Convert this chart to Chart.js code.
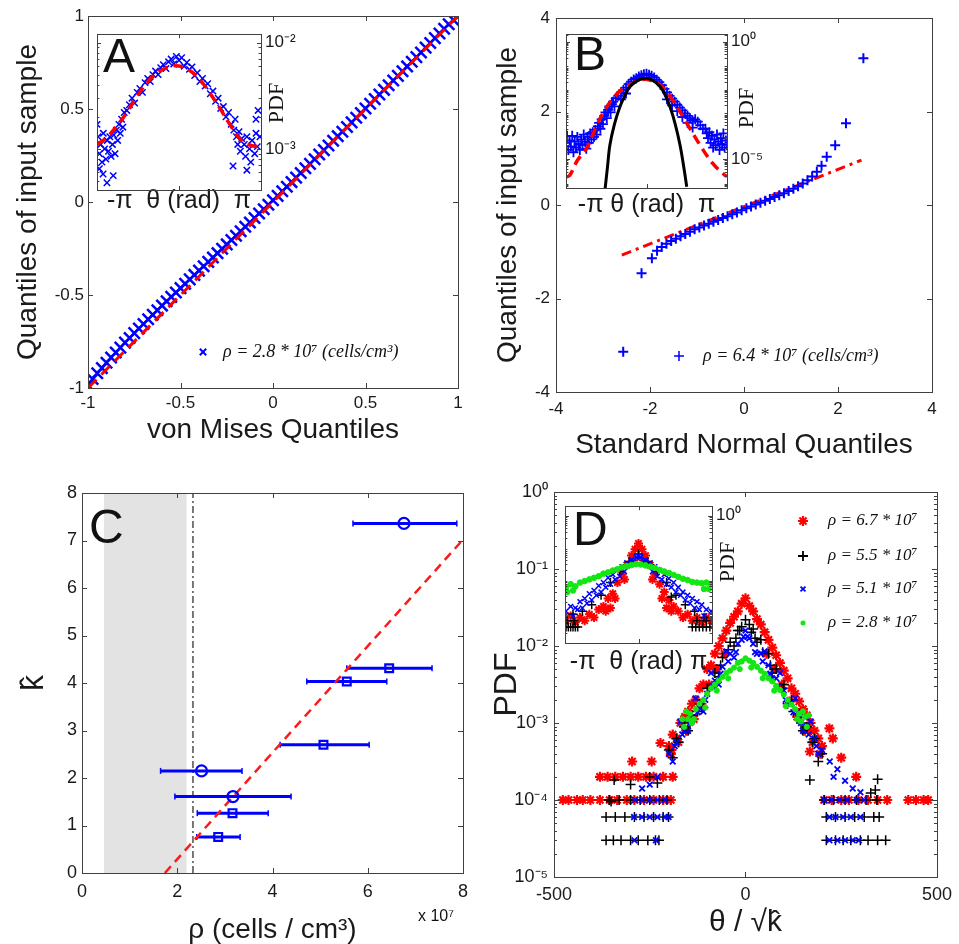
<!DOCTYPE html>
<html lang="en">
<head>
<meta charset="UTF-8">
<title>Orientation statistics</title>
<script src="https://cdn.jsdelivr.net/npm/chart.js"></script>
<style>
  body { margin: 0; background: #fff; }
  #fig { position: relative; width: 959px; height: 944px; overflow: hidden; background: #fff; }
  #fig canvas { position: absolute; }
</style>
</head>
<body>
<div id="fig">
  <canvas id="cA" width="480" height="450" style="left:0px;top:0px"></canvas>
  <canvas id="cB" width="479" height="470" style="left:480px;top:0px"></canvas>
  <canvas id="cC" width="480" height="494" style="left:0px;top:450px"></canvas>
  <canvas id="cD" width="479" height="474" style="left:480px;top:470px"></canvas>
  <canvas id="iA" width="215" height="200" style="left:90px;top:20px"></canvas>
  <canvas id="iB" width="215" height="200" style="left:558px;top:20px"></canvas>
  <canvas id="iD" width="205" height="190" style="left:557px;top:492px"></canvas>
</div>

<script>
// ---- panel A : QQ plot against von Mises ----
const vmQx = [-1, -0.975, -0.95, -0.925, -0.9, -0.875, -0.85, -0.825, -0.8, -0.775,
  -0.75, -0.725, -0.7, -0.675, -0.65, -0.625, -0.6, -0.575, -0.55, -0.525,
  -0.5, -0.475, -0.45, -0.425, -0.4, -0.375, -0.35, -0.325, -0.3, -0.275,
  -0.25, -0.225, -0.2, -0.175, -0.15, -0.125, -0.1, -0.075, -0.05, -0.025,
  0, 0.025, 0.05, 0.075, 0.1, 0.125, 0.15, 0.175, 0.2, 0.225,
  0.25, 0.275, 0.3, 0.325, 0.35, 0.375, 0.4, 0.425, 0.45, 0.475,
  0.5, 0.525, 0.55, 0.575, 0.6, 0.625, 0.65, 0.675, 0.7, 0.725,
  0.75, 0.775, 0.8, 0.825, 0.85, 0.875, 0.9, 0.925, 0.95, 0.975, 1];
const vmQy = [-0.985, -0.952, -0.921, -0.893, -0.864, -0.836, -0.809, -0.783, -0.756, -0.731,
  -0.705, -0.680, -0.656, -0.630, -0.606, -0.582, -0.557, -0.534, -0.510, -0.487,
  -0.463, -0.440, -0.416, -0.392, -0.369, -0.345, -0.322, -0.298, -0.275, -0.251,
  -0.228, -0.204, -0.181, -0.157, -0.133, -0.110, -0.086, -0.062, -0.039, -0.015,
  0.009, 0.033, 0.058, 0.082, 0.107, 0.131, 0.156, 0.181, 0.205, 0.230,
  0.255, 0.279, 0.304, 0.329, 0.354, 0.378, 0.403, 0.428, 0.453, 0.478,
  0.503, 0.528, 0.553, 0.578, 0.603, 0.628, 0.653, 0.678, 0.703, 0.729,
  0.754, 0.779, 0.804, 0.830, 0.855, 0.881, 0.906, 0.931, 0.956, 0.979, 0.998];
const vmFitX = [-1, 1];
const vmFitY = [-1, 1];

// inset A : angular PDF (log axis)
const insAth = [-3.14, -3.1, -3.05, -3.0, -2.95, -2.9, -2.85, -2.8, -2.75, -2.7,
  -2.65, -2.6, -2.55, -2.5, -2.45, -2.4, -2.35, -2.3, -2.25, -2.2, -2.15, -2.1,
  -3.05, -2.91, -2.76, -2.52,
  -2.0, -1.9, -1.8, -1.7, -1.6, -1.5, -1.4, -1.3, -1.2, -1.1,
  -1.0, -0.9, -0.8, -0.7, -0.6, -0.5, -0.4, -0.3, -0.2, -0.1, 0,
  0.1, 0.2, 0.3, 0.4, 0.5, 0.6, 0.7, 0.8, 0.9, 1.0,
  1.1, 1.2, 1.3, 1.4, 1.5, 1.6, 1.7, 1.8, 1.9, 2.0,
  2.1, 2.15, 2.2, 2.25, 2.3, 2.35, 2.4, 2.5, 2.55, 2.6, 2.7, 2.75, 2.8, 2.9, 2.95, 3.0, 3.1,
  2.07, 2.6, 3.03, 2.95];
const insApdf = [1.7e-3, 1.3e-3, 9e-4, 1.1e-3, 7.5e-4, 1.4e-3, 1.0e-3, 8e-4, 1.2e-3, 9.5e-4,
  1.3e-3, 8.5e-4, 1.1e-3, 1.35e-3, 9e-4, 1.5e-3, 1.2e-3, 1.7e-3, 1.4e-3, 1.9e-3, 1.6e-3, 2.2e-3,
  6.5e-4, 5.8e-4, 4.8e-4, 5.6e-4,
  2.3e-3, 2.6e-3, 3.0e-3, 2.7e-3, 3.4e-3, 3.7e-3, 3.4e-3, 4.2e-3, 4.6e-3, 4.3e-3,
  5.0e-3, 5.4e-3, 5.0e-3, 5.8e-3, 6.2e-3, 5.7e-3, 6.6e-3, 7.0e-3, 6.3e-3, 7.4e-3, 6.8e-3,
  7.2e-3, 6.0e-3, 6.5e-3, 5.6e-3, 5.9e-3, 4.9e-3, 5.2e-3, 4.3e-3, 4.6e-3, 3.9e-3,
  4.1e-3, 3.3e-3, 3.5e-3, 2.8e-3, 3.0e-3, 2.4e-3, 2.5e-3, 2.0e-3, 2.2e-3, 1.7e-3,
  1.5e-3, 1.9e-3, 1.3e-3, 1.1e-3, 1.45e-3, 9.5e-4, 1.25e-3, 1.1e-3, 8.5e-4, 1.3e-3, 1.0e-3, 7.5e-4, 1.2e-3, 9e-4, 1.4e-3, 1.05e-3, 1.3e-3,
  6.9e-4, 6.3e-4, 2.3e-3, 1.9e-3];
const insAfitTh = [-3.14, -2.8, -2.4, -2.0, -1.6, -1.2, -0.8, -0.4, 0, 0.4, 0.8, 1.2, 1.6, 2.0, 2.4, 2.8, 3.14];
const insAfit = [1.10e-3, 1.26e-3, 1.62e-3, 2.19e-3, 3.16e-3, 4.27e-3, 5.25e-3, 5.89e-3, 6.03e-3, 5.50e-3, 4.47e-3, 3.31e-3, 2.34e-3, 1.62e-3, 1.20e-3, 1.07e-3, 1.05e-3];

// ---- panel B : QQ plot against standard normal ----
const qqBx = [-2.57, -2.18, -1.96, -1.85, -1.75, -1.65, -1.55, -1.45, -1.35, -1.25, -1.15, -1.05,
  -0.95, -0.85, -0.75, -0.65, -0.55, -0.45, -0.35, -0.25, -0.15, -0.05,
  0.05, 0.15, 0.25, 0.35, 0.45, 0.55, 0.65, 0.75, 0.85, 0.95,
  1.05, 1.15, 1.25, 1.35, 1.45, 1.55, 1.65, 1.76, 1.94, 2.17, 2.54];
const qqBy = [-3.14, -1.46, -1.14, -0.98, -0.90, -0.83, -0.77, -0.72, -0.67, -0.62, -0.57, -0.52,
  -0.48, -0.44, -0.40, -0.36, -0.32, -0.28, -0.24, -0.20, -0.16, -0.11,
  -0.07, -0.03, 0.01, 0.05, 0.09, 0.13, 0.17, 0.21, 0.25, 0.30,
  0.35, 0.40, 0.46, 0.53, 0.61, 0.71, 0.84, 1.03, 1.28, 1.75, 3.14];
const fitBx = [-2.60, 2.50];
const fitBy = [-1.07, 0.96];

// inset B (values are log10 of the PDF)
const insBth = [-3.14, -3.1, -3.05, -3.0, -2.95, -2.9, -2.85, -2.8, -2.75, -2.7, -2.65, -2.6,
  -2.55, -2.5, -2.45, -2.4, -2.35, -2.3, -2.25, -2.2, -2.15, -2.1, -2.05, -2.0,
  -1.95, -1.9, -1.85, -1.8, -1.75, -1.7, -1.65, -1.6, -1.55, -1.5, -1.45, -1.4, -1.35, -1.3, -1.25, -1.2,
  -1.1, -1.0, -0.9, -0.8, -0.7, -0.6, -0.5, -0.4, -0.3, -0.2, -0.1, 0,
  0.1, 0.2, 0.3, 0.4, 0.5, 0.6, 0.7, 0.8, 0.9, 1.0, 1.1, 1.2, 1.3, 1.4, 1.5, 1.6, 1.7, 1.8, 1.9, 2.0, 2.1, 2.2, 2.3, 2.35,
  2.4, 2.45, 2.5, 2.55, 2.6, 2.65, 2.7, 2.75, 2.8, 2.85, 2.9, 2.95, 3.0, 3.05, 3.1, 3.14,
  -1.0, -0.8, 0.8, 1.0, 1.2, 1.4, 1.6, 1.8];
const insBlog = [-4.3, -4.0, -4.6, -4.2, -4.45, -4.0, -4.7, -4.25, -4.5, -4.05, -4.35, -4.6,
  -4.15, -4.4, -3.95, -4.25, -4.55, -4.05, -4.3, -3.9, -4.15, -3.85, -4.05, -3.75,
  -3.95, -3.6, -3.45, -3.7, -3.3, -3.5, -3.15, -3.0, -3.25, -2.9, -2.75, -3.0, -2.65, -2.55, -2.75, -2.4,
  -2.3, -2.15, -2.05, -1.95, -1.8, -1.7, -1.6, -1.55, -1.48, -1.42, -1.38, -1.36,
  -1.4, -1.45, -1.52, -1.62, -1.72, -1.85, -2.0, -2.15, -2.3, -2.42, -2.55, -2.68, -2.8, -2.92, -3.05, -3.15, -3.25, -3.35, -3.3, -3.4, -3.55, -3.7, -3.7, -3.9,
  -4.1, -3.85, -4.3, -4.0, -4.5, -4.15, -4.4, -3.95, -4.25, -4.6, -4.1, -4.35, -3.9, -4.5, -4.2, -4.4,
  -2.45, -2.2, -2.45, -2.7, -2.95, -3.2, -3.45, -3.65];
const insBfitTh = [-3.14, -3.0, -2.7, -2.34, -1.95, -1.56, -1.04, -0.6, -0.25, 0, 0.53, 1.04, 1.57, 2.09, 2.6, 3.07, 3.14];
const insBfitLog = [-5.75, -5.69, -5.05, -4.54, -3.59, -2.78, -2.10, -1.80, -1.63, -1.60, -1.83, -2.51, -3.46, -4.40, -5.20, -5.69, -5.72];
const insBgaussTh = [-1.62, -1.52, -1.43, -1.25, -1.04, -0.85, -0.64, -0.3, 0, 0.25, 0.53, 0.72, 0.92, 1.12, 1.31, 1.45, 1.57];
const insBgaussLog = [-6.3, -5.3, -4.40, -3.50, -2.78, -2.30, -1.90, -1.62, -1.55, -1.65, -1.90, -2.25, -2.78, -3.50, -4.40, -5.30, -6.17];

// ---- panel C : kappa vs density (rho in units of 1e7 cells/cm3) ----
const rhoE7 = [6.76, 6.45, 5.56, 5.07, 2.51, 3.17, 3.16, 2.86];
const kHat = [7.36, 4.31, 4.03, 2.70, 2.15, 1.61, 1.26, 0.76];
const rhoLo = [5.69, 5.56, 4.72, 4.16, 1.65, 1.95, 2.42, 2.41];
const rhoHi = [7.87, 7.35, 6.40, 6.03, 3.36, 4.39, 3.91, 3.32];
const kMarker = ['circle', 'rect', 'rect', 'rect', 'circle', 'circle', 'rect', 'rect'];
const shadeFrom = 0.46, shadeTo = 2.2;
const rhoCritical = 2.33;
const kFitX = [1.74, 8.0];
const kFitY = [0, 7.02];

// ---- panel D : rescaled PDFs (values are log10 of the PDF) ----
const dRedX = [-200, -190, -180, -170, -160, -150, -140, -130, -120, -110, -100, -90, -80, -70, -60, -50, -40, -30, -20, -10, 0,
  10, 20, 30, 40, 50, 60, 70, 80, 90, 100, 110, 120, 130, 140, 150, 160, 170, 180, 190, 200,
  -195, -175, -155, -135, -115, -95, -75, -55, 55, 75, 95, 115, 135, 155, 175, 195,
  -296, -245, -222, -193, -158, 168, 171, 219, 228, 250];
const dRedLog = [-3.30, -3.15, -3.20, -3.00, -2.95, -2.85, -2.75, -2.70, -2.55, -2.50, -2.30, -2.25, -2.10, -2.00, -1.90, -1.80, -1.70, -1.62, -1.55, -1.45, -1.38,
  -1.48, -1.55, -1.65, -1.72, -1.82, -1.92, -2.02, -2.12, -2.22, -2.32, -2.42, -2.55, -2.62, -2.72, -2.82, -2.90, -3.00, -3.10, -3.20, -3.30,
  -3.40, -3.25, -3.10, -2.95, -2.75, -2.50, -2.30, -2.10, -2.10, -2.30, -2.50, -2.72, -2.92, -3.10, -3.25, -3.40,
  -3.50, -3.50, -3.26, -3.35, -2.92, -3.37, -3.09, -3.07, -3.20, -3.45];
const dRedRow2e4 = [-380, -360, -340, -320, -300, -280, -260, -240, -215, -190, 289];
const dRedRow1e4 = [-477, -462, -440, -425, -405, -380, -355, -335, -310, -290, -265, -240, -215, -195,
  205, 225, 250, 270, 295, 320, 345, 370, 425, 445, 465, 477];

const dBlackX = [-200, -180, -160, -140, -120, -100, -80, -60, -40, -20, 0, 20, 40, 60, 80, 100, 120, 140, 160, 180, 200,
  -190, -150, -110, -70, -30, -10, 10, 30, 70, 110, 150, 190,
  -175, -145, -125, -95, -65, -45, -25, -15, 15, 25, 45, 65, 95, 125, 145, 175,
  -351, -343, -300, -250, -230, 168, 327, 345, 339];
const dBlackLog = [-3.35, -3.20, -3.05, -2.90, -2.75, -2.55, -2.35, -2.15, -1.95, -1.80, -1.66, -1.78, -1.92, -2.10, -2.30, -2.50, -2.70, -2.88, -3.05, -3.20, -3.40,
  -3.45, -3.10, -2.80, -2.40, -2.00, -1.75, -1.72, -1.95, -2.35, -2.75, -3.10, -3.50,
  -3.25, -3.00, -2.85, -2.55, -2.25, -2.05, -1.90, -1.80, -1.82, -1.90, -2.08, -2.25, -2.55, -2.85, -3.00, -3.25,
  -4.02, -3.74, -3.80, -3.70, -3.78, -3.74, -3.91, -3.73, -3.87];
const dBlackRow1e4 = [-356, -330, -300, -275, -250, -225, -205, 206, 230, 260, 290, 315, 343];
const dBlackRow6e5 = [-364, -340, -315, -290, -265, -240, -215, -201, 211, 235, 260, 285, 310, 335, 349];
const dBlackRow3e5 = [-364, -345, -325, -300, -280, -255, -235, -226, 211, 235, 255, 275, 300, 320, 345, 366];

const dBlueX = [-200, -180, -160, -140, -120, -100, -80, -60, -40, -20, 0, 20, 40, 60, 80, 100, 120, 140, 160, 180, 200, 220, 240,
  -190, -150, -110, -70, -30, -10, 10, 30, 70, 110, 150, 190, 230,
  -185, -165, -145, -125, -105, -85, -65, -45, -25, -5, 5, 25, 45, 65, 85, 105, 125, 145, 165, 185,
  -170, -130, -90, -50, 50, 90, 130, 170,
  -230, -250, 260, 280, 300, -270];
const dBlueLog = [-3.40, -3.25, -3.10, -2.95, -2.80, -2.62, -2.45, -2.27, -2.10, -1.97, -1.80, -1.97, -2.10, -2.25, -2.42, -2.58, -2.74, -2.90, -3.05, -3.20, -3.35, -3.50, -3.60,
  -3.50, -3.10, -2.85, -2.50, -2.15, -1.92, -1.90, -2.10, -2.42, -2.75, -3.10, -3.40, -3.70,
  -3.30, -3.15, -3.00, -2.86, -2.70, -2.52, -2.36, -2.20, -2.08, -1.88, -1.88, -2.08, -2.20, -2.36, -2.52, -2.70, -2.86, -3.00, -3.15, -3.30,
  -2.98, -2.68, -2.35, -2.07, -2.07, -2.35, -2.68, -2.98,
  -3.70, -3.80, -3.75, -3.85, -3.90, -3.85];
const dBlueRow1e4 = [-288, -270, -250, -230, -210, 206, 225, 245, 265, 290, 310];
const dBlueRow6e5 = [-291, -270, -250, -230, -210, -201, 219, 235, 255, 275, 300];
const dBlueRow3e5 = [-290, -234, 219, 240, 260, 280, 296];

const dGreenX = [-165, -160, -155, -150, -145, -140, -130, -120, -110, -100, -90, -80, -70, -60, -50, -40, -30, -20, -10, 0,
  10, 20, 30, 40, 50, 60, 70, 80, 90, 100, 110, 120, 130, 140, 145, 150, 155, 160, 165,
  -135, -105, -75, -45, -15, 15, 45, 75, 105, 135];
const dGreenLog = [-2.95, -3.05, -2.85, -2.95, -2.88, -3.00, -2.82, -2.75, -2.70, -2.62, -2.55, -2.50, -2.45, -2.40, -2.35, -2.32, -2.28, -2.22, -2.20, -2.16,
  -2.19, -2.22, -2.27, -2.32, -2.36, -2.42, -2.46, -2.52, -2.57, -2.63, -2.70, -2.76, -2.82, -2.88, -2.98, -2.85, -2.92, -3.05, -2.90,
  -2.95, -2.80, -2.58, -2.42, -2.30, -2.28, -2.42, -2.58, -2.78, -2.95];

// inset D (log10 of PDF)
const iDredTh = [-3.1, -2.9, -2.7, -2.5, -2.3, -2.1, -1.9, -1.7, -1.5, -1.3, -1.1, -0.9, -0.7, -0.5, -0.3, -0.15, 0,
  0.15, 0.3, 0.5, 0.7, 0.9, 1.1, 1.3, 1.5, 1.7, 1.9, 2.1, 2.3, 2.5, 2.7, 2.9, 3.1,
  -1.4, -1.2, -1.0, -0.6, -0.2, 0.2, 0.6, 1.0, 1.2, 1.4];
const iDredLog = [-3.3, -3.15, -3.35, -3.2, -3.3, -3.1, -3.2, -2.95, -2.85, -2.6, -2.45, -2.1, -1.85, -1.55, -1.25, -1.05, -0.87,
  -1.05, -1.25, -1.55, -1.85, -2.15, -2.4, -2.65, -2.85, -3.0, -3.2, -3.1, -3.3, -3.2, -3.35, -3.2, -3.3,
  -3.0, -2.9, -2.6, -2.0, -1.4, -1.4, -2.0, -2.6, -2.9, -3.0];
const iDblueTh = [-3.1, -2.9, -2.7, -2.5, -2.3, -2.1, -1.9, -1.7, -1.5, -1.3, -1.1, -0.9, -0.7, -0.5, -0.3, -0.1, 0,
  0.1, 0.3, 0.5, 0.7, 0.9, 1.1, 1.3, 1.5, 1.7, 1.9, 2.1, 2.3, 2.5, 2.7, 2.9, 3.1,
  -2.8, -2.4, -2.0, -1.6, -1.2, -0.8, 0.8, 1.2, 1.6, 2.0, 2.4, 2.8,
  -2.6, -2.2, -1.8, -1.4, -1.0, -0.6, -0.2, 0.2, 0.6, 1.0, 1.4, 1.8, 2.2, 2.6];
const iDblueLog = [-3.0, -2.85, -2.9, -2.7, -2.6, -2.45, -2.35, -2.2, -2.1, -1.95, -1.85, -1.7, -1.6, -1.48, -1.38, -1.3, -1.27,
  -1.3, -1.38, -1.48, -1.6, -1.72, -1.85, -1.97, -2.1, -2.25, -2.4, -2.5, -2.6, -2.7, -2.8, -2.95, -3.0,
  -3.15, -2.9, -2.65, -2.4, -2.15, -1.9, -1.9, -2.15, -2.4, -2.65, -2.9, -3.15,
  -2.95, -2.75, -2.5, -2.25, -2.0, -1.75, -1.45, -1.45, -1.75, -2.0, -2.25, -2.5, -2.75, -2.95];
const iDblackTh = [-2.8, -2.4, -2.0, -1.6, -1.2, -0.8, -0.4, 0, 0.4, 0.8, 1.2, 1.4, 1.6, 2.0, 2.4, 2.8];
const iDblackLog = [-3.1, -3.0, -2.8, -2.5, -2.1, -1.75, -1.45, -1.2, -1.45, -1.75, -2.1, -2.55, -2.5, -2.8, -3.0, -3.2];
const iDblackRowLow = [-3.1, -3.0, -2.9, -2.8, -2.7, -2.6, 2.3, 2.45, 2.6, 2.75, 2.9, 3.05];
const iDblackRowMid = [-3.05, -2.75, 2.5, 2.9];
const iDgreenTh = [-3.1, -2.9, -2.7, -2.5, -2.3, -2.1, -1.9, -1.7, -1.5, -1.3, -1.1, -0.9, -0.7, -0.5, -0.3, -0.1,
  0.1, 0.3, 0.5, 0.7, 0.9, 1.1, 1.3, 1.5, 1.7, 1.9, 2.1, 2.3, 2.5, 2.7, 2.9, 3.1,
  -3.05, -2.8, 2.8, 3.0];
const iDgreenLog = [-2.25, -2.15, -2.22, -2.1, -2.05, -2.0, -1.95, -1.9, -1.82, -1.78, -1.72, -1.68, -1.62, -1.58, -1.55, -1.52,
  -1.53, -1.56, -1.6, -1.64, -1.7, -1.75, -1.8, -1.86, -1.92, -1.98, -2.02, -2.08, -2.1, -2.12, -2.1, -2.15,
  -2.4, -2.35, -2.3, -2.3];

const legendD = ['ρ = 6.7 * 10⁷', 'ρ = 5.5 * 10⁷', 'ρ = 5.1 * 10⁷', 'ρ = 2.8 * 10⁷'];

// ---------------------------------------------------------------
const BLUE = '#0000ff', RED = '#ff0000', BLACK = '#000000', GREEN = '#14e614';
const SANS = '"Liberation Sans", Arial, sans-serif';
const SERIF = '"Liberation Serif", "Times New Roman", serif';

Chart.defaults.font.family = SANS;
Chart.defaults.color = '#1a1a1a';
Chart.defaults.animation = false;
Chart.defaults.responsive = false;
Chart.defaults.plugins.legend.display = false;
Chart.defaults.plugins.tooltip.enabled = false;

const SUP = { '-': '⁻', '0': '⁰', '1': '¹', '2': '²', '3': '³', '4': '⁴', '5': '⁵', '6': '⁶', '7': '⁷', '8': '⁸', '9': '⁹' };
function pow10(v) {
  const e = Math.round(Math.log10(v));
  return '10' + String(e).split('').map(c => SUP[c]).join('');
}
const plain = v => String(v);
const pts = (xs, ys) => xs.map((x, i) => ({ x: x, y: ys[i] }));
const logPts = (xs, ls) => xs.map((x, i) => ({ x: x, y: Math.pow(10, ls[i]) }));
const row = (xs, y) => xs.map(x => ({ x: x, y: y }));

function dots(data, style, r, color, lw, order) {
  return { data: data, showLine: false, pointStyle: style, pointRadius: r, pointBorderColor: color,
    pointBackgroundColor: color, pointBorderWidth: lw, order: order };
}
function curve(data, color, lw, dash, order, tension) {
  return { data: data, showLine: true, borderColor: color, borderWidth: lw, borderDash: dash || [],
    pointRadius: 0, fill: false, tension: tension || 0, order: order };
}

function axis(o) {
  const a = {
    type: o.type || 'linear',
    position: o.pos,
    min: o.min, max: o.max,
    grid: { display: false, drawTicks: false },
    border: { display: false },
    ticks: { padding: o.pad || 4, maxRotation: 0, autoSkip: false, font: { size: o.fs || 17 } },
    title: { display: false },
    afterFit: s => { if (s.isHorizontal()) s.height = o.size; else s.width = o.size; }
  };
  if (o.step) a.ticks.stepSize = o.step;
  if (o.cb) a.ticks.callback = o.cb;
  if (o.tickVals) a.afterBuildTicks = s => { s.ticks = o.tickVals.map(v => ({ value: v })); };
  if (o.title) a.title = { display: true, text: o.title, font: { size: o.tfs, lineHeight: 1, family: o.tfam || SANS }, padding: o.tpad };
  return a;
}

function drawMark(ctx, m) {
  ctx.save();
  ctx.strokeStyle = m.color; ctx.fillStyle = m.color; ctx.lineWidth = m.lw || 1.5;
  const r = m.r;
  ctx.beginPath();
  if (m.style === 'circle') {
    ctx.arc(m.x, m.y, r, 0, Math.PI * 2); ctx.fill();
  } else {
    let angles = [0];
    if (m.style === 'crossRot') angles = [Math.PI / 4];
    if (m.style === 'star') angles = [0, Math.PI / 4];
    angles.forEach(a => {
      [a, a + Math.PI / 2].forEach(b => {
        ctx.moveTo(m.x - r * Math.cos(b), m.y - r * Math.sin(b));
        ctx.lineTo(m.x + r * Math.cos(b), m.y + r * Math.sin(b));
      });
    });
    ctx.stroke();
  }
  ctx.restore();
}

// MATLAB-like box: white plot area, frame, inward ticks, extra labels
const frame = {
  id: 'frame',
  beforeDraw(chart, args, o) {
    if (!o.white) return;
    const a = chart.chartArea, ctx = chart.ctx;
    ctx.save(); ctx.fillStyle = '#fff'; ctx.fillRect(a.left, a.top, a.width, a.height); ctx.restore();
  },
  afterDraw(chart, args, o) {
    const a = chart.chartArea, ctx = chart.ctx;
    const len = o.len || 5;
    ctx.save();
    ctx.strokeStyle = '#404040'; ctx.lineWidth = 1;
    ctx.strokeRect(Math.round(a.left) + 0.5, Math.round(a.top) + 0.5, Math.round(a.width), Math.round(a.height));
    const seg = (x1, y1, x2, y2) => { ctx.beginPath(); ctx.moveTo(x1, y1); ctx.lineTo(x2, y2); ctx.stroke(); };
    Object.values(chart.scales).forEach(s => {
      const list = s.ticks.map(t => [t.value, len]);
      if (s.type === 'logarithmic') {
        for (let d = Math.floor(Math.log10(s.min)); d <= Math.ceil(Math.log10(s.max)); d++) {
          for (let k = 2; k <= 9; k++) {
            const v = k * Math.pow(10, d);
            if (v > s.min && v < s.max) list.push([v, len * 0.6]);
          }
        }
      }
      list.forEach(([v, l]) => {
        const p = Math.round(s.getPixelForValue(v)) + 0.5;
        if (s.isHorizontal()) { seg(p, a.bottom, p, a.bottom - l); seg(p, a.top, p, a.top + l); }
        else { seg(a.left, p, a.left + l, p); seg(a.right, p, a.right - l, p); }
      });
    });
    (o.texts || []).forEach(t => {
      ctx.save();
      ctx.font = t.font; ctx.fillStyle = t.color || '#111';
      ctx.textAlign = t.align || 'left'; ctx.textBaseline = t.base || 'alphabetic';
      ctx.translate(t.x, t.y); if (t.rot) ctx.rotate(t.rot);
      ctx.fillText(t.text, 0, 0);
      ctx.restore();
    });
    (o.marks || []).forEach(m => drawMark(ctx, m));
    ctx.restore();
  }
};
Chart.register(frame);

const LEG_FONT = 'italic 18px ' + SERIF;
const INSET_TITLE = 25;

// ---- A ----
new Chart(document.getElementById('cA'), {
  type: 'line',
  data: { datasets: [
    curve(pts(vmFitX, vmFitY), RED, 3, [12, 7], 0),
    dots(pts(vmQx, vmQy), 'crossRot', 8, BLUE, 2.5, 1)
  ] },
  options: {
    layout: { padding: { left: 0, top: 16, right: 22, bottom: 0 } },
    scales: {
      x: axis({ pos: 'bottom', min: -1, max: 1, step: 0.5, cb: plain, pad: 5, size: 62, title: 'von Mises Quantiles', tfs: 28, tpad: { bottom: 6 } }),
      y: axis({ pos: 'left', min: -1, max: 1, step: 0.5, cb: plain, pad: 4, size: 88, title: 'Quantiles of input sample', tfs: 28, tpad: { top: 14 } })
    },
    plugins: { frame: {
      texts: [{ text: 'ρ = 2.8 * 10⁷ (cells/cm³)', x: 223, y: 352, font: LEG_FONT, base: 'middle' }],
      marks: [{ x: 203, y: 352, r: 4.5, style: 'crossRot', color: BLUE, lw: 2 }]
    } }
  }
});

new Chart(document.getElementById('iA'), {
  type: 'line',
  data: { datasets: [
    curve(pts(insAfitTh, insAfit), RED, 3.5, [10, 6], 0, 0.4),
    dots(pts(insAth, insApdf), 'crossRot', 4.5, BLUE, 1.5, 1)
  ] },
  options: {
    layout: { padding: { left: 7, top: 7, right: 0, bottom: 0 } },
    scales: {
      x: axis({ pos: 'bottom', min: -Math.PI, max: Math.PI, tickVals: [0], cb: () => '', size: 30, title: '-π  θ (rad)  π', tfs: INSET_TITLE, tpad: { bottom: 6 } }),
      y: axis({ type: 'logarithmic', pos: 'right', min: 4.1e-4, max: 1.2e-2, tickVals: [1e-3, 1e-2], cb: pow10, pad: 4, size: 44, fs: 17 })
    },
    plugins: { frame: { white: true, len: 4,
      texts: [
        { text: 'A', x: 13, y: 52, font: '48px ' + SANS },
        { text: 'PDF', x: 187, y: 83, font: '22px ' + SERIF, align: 'center', base: 'middle', rot: -Math.PI / 2 }
      ]
    } }
  }
});

// ---- B ----
new Chart(document.getElementById('cB'), {
  type: 'line',
  data: { datasets: [
    curve(pts(fitBx, fitBy), RED, 3, [10, 5, 3, 5], 1),
    dots(pts(qqBx, qqBy), 'cross', 5, BLUE, 2, 0)
  ] },
  options: {
    layout: { padding: { left: 0, top: 18, right: 27, bottom: 0 } },
    scales: {
      x: axis({ pos: 'bottom', min: -4, max: 4, step: 2, cb: plain, pad: 7, size: 78, title: 'Standard Normal Quantiles', tfs: 28, tpad: { bottom: 11 } }),
      y: axis({ pos: 'left', min: -4, max: 4, step: 2, cb: plain, pad: 6, size: 76, title: 'Quantiles of input sample', tfs: 28, tpad: { top: 14 } })
    },
    plugins: { frame: {
      texts: [{ text: 'ρ = 6.4 * 10⁷ (cells/cm³)', x: 223, y: 356, font: LEG_FONT, base: 'middle' }],
      marks: [{ x: 199, y: 356, r: 5, style: 'cross', color: BLUE, lw: 1.5 }]
    } }
  }
});

new Chart(document.getElementById('iB'), {
  type: 'line',
  data: { datasets: [
    curve(logPts(insBgaussTh, insBgaussLog), BLACK, 3, [], 0, 0.35),
    curve(logPts(insBfitTh, insBfitLog), RED, 3.5, [10, 6], 1, 0.35),
    dots(logPts(insBth, insBlog), 'cross', 5, BLUE, 1.8, 2)
  ] },
  options: {
    layout: { padding: { left: 8, top: 7, right: 0, bottom: 0 } },
    scales: {
      x: axis({ pos: 'bottom', min: -Math.PI, max: Math.PI, tickVals: [0], cb: () => '', size: 32, title: '-π θ (rad)  π', tfs: INSET_TITLE, tpad: { bottom: 2.5 } }),
      y: axis({ type: 'logarithmic', pos: 'right', min: 6e-7, max: 2.1, tickVals: [1e-5, 1], cb: pow10, pad: 4, size: 46, fs: 17 })
    },
    plugins: { frame: { white: true, len: 4,
      texts: [
        { text: 'B', x: 16, y: 50, font: '48px ' + SANS },
        { text: 'PDF', x: 189, y: 88, font: '22px ' + SERIF, align: 'center', base: 'middle', rot: -Math.PI / 2 }
      ]
    } }
  }
});

// ---- C ----
const errBars = rhoE7.map((r, i) => ({
  data: [{ x: rhoLo[i], y: kHat[i] }, { x: rhoHi[i], y: kHat[i] }],
  showLine: true, borderColor: BLUE, borderWidth: 3, pointStyle: 'line', pointRotation: 90,
  pointRadius: 3, pointBorderColor: BLUE, pointBorderWidth: 1.5, order: 2
}));
new Chart(document.getElementById('cC'), {
  type: 'line',
  data: { datasets: [
    { data: [{ x: shadeFrom, y: 8 }, { x: shadeTo, y: 8 }], showLine: true, fill: 'origin',
      backgroundColor: '#e3e3e3', borderWidth: 0, pointRadius: 0, order: 5 },
    curve([{ x: rhoCritical, y: 0 }, { x: rhoCritical, y: 8 }], '#333333', 1.3, [7, 3, 2, 3], 4),
    curve(pts(kFitX, kFitY), '#ff1a1a', 2.5, [9, 6], 1),
    ...errBars,
    { data: pts(rhoE7, kHat), showLine: false, pointStyle: kMarker, pointRadius: 5.5,
      pointBorderColor: BLUE, pointBackgroundColor: 'rgba(0,0,0,0)', pointBorderWidth: 2.2, order: 0 }
  ] },
  options: {
    layout: { padding: { left: 0, top: 43, right: 17, bottom: 0 } },
    scales: {
      x: axis({ pos: 'bottom', min: 0, max: 8, step: 2, cb: plain, pad: 8, size: 71, fs: 18, title: 'ρ (cells / cm³)', tfs: 28, tpad: { bottom: 0 } }),
      y: axis({ pos: 'left', min: 0, max: 8, step: 1, cb: plain, pad: 5, size: 82, fs: 18, title: 'k̂', tfs: 32, tpad: { top: 18 } })
    },
    plugins: { frame: {
      texts: [
        { text: 'C', x: 89, y: 93, font: '48px ' + SANS },
        { text: 'x 10⁷', x: 418, y: 471, font: '16px ' + SANS }
      ]
    } }
  }
});

// ---- D ----
new Chart(document.getElementById('cD'), {
  type: 'line',
  data: { datasets: [
    dots(logPts(dGreenX, dGreenLog), 'circle', 2.6, GREEN, 1, 0),
    dots(logPts(dBlueX, dBlueLog).concat(row(dBlueRow1e4, 1e-4), row(dBlueRow6e5, 6e-5), row(dBlueRow3e5, 3e-5)), 'crossRot', 4, BLUE, 1.8, 1),
    dots(logPts(dBlackX, dBlackLog).concat(row(dBlackRow1e4, 1e-4), row(dBlackRow6e5, 6e-5), row(dBlackRow3e5, 3e-5)), 'cross', 5, BLACK, 1.5, 2),
    dots(logPts(dRedX, dRedLog).concat(row(dRedRow2e4, 2e-4), row(dRedRow1e4, 1e-4)), 'star', 5, RED, 2.2, 3)
  ] },
  options: {
    layout: { padding: { left: 0, top: 22, right: 17, bottom: 0 } },
    scales: {
      x: axis({ pos: 'bottom', min: -500, max: 500, step: 500, cb: plain, pad: 7, size: 67, fs: 18, title: 'θ / √k̂', tfs: 30, tpad: { bottom: 6 } }),
      y: axis({ type: 'logarithmic', pos: 'left', min: 1e-5, max: 1, tickVals: [1e-5, 1e-4, 1e-3, 1e-2, 1e-1, 1], cb: pow10, pad: 6, size: 74, fs: 18, title: 'PDF', tfs: 32, tpad: { top: 11 } })
    },
    plugins: { frame: {
      texts: legendD.map((t, i) => ({ text: t, x: 348, y: [51, 86, 119, 153][i], font: 'italic 17px ' + SERIF, base: 'middle' })),
      marks: [
        { x: 323, y: 51, r: 5, style: 'star', color: RED, lw: 2.2 },
        { x: 323, y: 86, r: 5, style: 'cross', color: BLACK, lw: 1.8 },
        { x: 323, y: 119, r: 3.5, style: 'crossRot', color: BLUE, lw: 1.8 },
        { x: 323, y: 153, r: 2.5, style: 'circle', color: GREEN }
      ]
    } }
  }
});

new Chart(document.getElementById('iD'), {
  type: 'line',
  data: { datasets: [
    dots(logPts(iDgreenTh, iDgreenLog), 'circle', 2.8, GREEN, 1, 0),
    dots(logPts(iDblueTh, iDblueLog), 'crossRot', 3.5, BLUE, 1.5, 1),
    dots(logPts(iDblackTh, iDblackLog).concat(row(iDblackRowLow, 3.2e-4), row(iDblackRowMid, 5e-4)), 'cross', 4.5, BLACK, 1.5, 2),
    dots(logPts(iDredTh, iDredLog), 'star', 4.5, RED, 2, 3)
  ] },
  options: {
    layout: { padding: { left: 8, top: 7, right: 0, bottom: 0 } },
    scales: {
      x: axis({ pos: 'bottom', min: -Math.PI, max: Math.PI, tickVals: [0], cb: () => '', size: 39, title: '-π  θ (rad) π', tfs: INSET_TITLE, tpad: { bottom: 7.5 } }),
      y: axis({ type: 'logarithmic', pos: 'right', min: 1e-4, max: 2, tickVals: [1], cb: pow10, pad: 4, size: 50, fs: 17 })
    },
    plugins: { frame: { white: true, len: 4,
      texts: [
        { text: 'D', x: 16, y: 53, font: '48px ' + SANS },
        { text: 'PDF', x: 171, y: 70, font: '22px ' + SERIF, align: 'center', base: 'middle', rot: -Math.PI / 2 }
      ]
    } }
  }
});
</script>
</body>
</html>
